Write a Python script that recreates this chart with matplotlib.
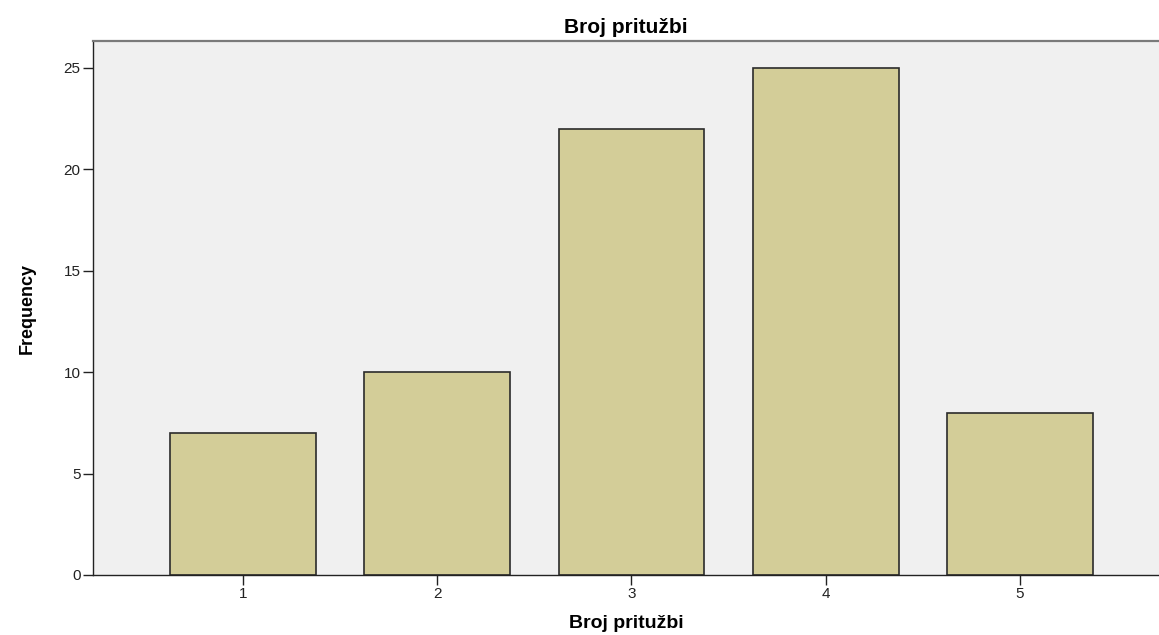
import matplotlib
matplotlib.use("Agg")

import matplotlib.pyplot as plt

plt.rcParams["font.family"] = ["Liberation Sans", "DejaVu Sans"]

# Frequencies
categories = ["1", "2", "3", "4", "5"]
frequencies = [7, 10, 22, 25, 8]
y_ticks = [0, 5, 10, 15, 20, 25]

title = "Broj pritužbi"

fig = plt.figure(figsize=(11.59, 6.35), dpi=100)
ax = fig.add_axes([93 / 1159, 60 / 635, 1 - 93 / 1159, 534 / 635])
ax.set_facecolor("#f0f0f0")

positions = list(range(1, len(categories) + 1))
ax.bar(positions, frequencies, width=0.75, color="#d3cd98",
       edgecolor="#2b2b2b", linewidth=1.2, zorder=2)

ax.set_xlim(0.228, 5.716)
ax.set_ylim(0, 26.33)
ax.set_xticks(positions)
ax.set_xticklabels(categories)
ax.set_yticks(y_ticks)

ax.spines["right"].set_visible(False)
ax.spines["top"].set_color("#7a7a7a")
ax.spines["top"].set_linewidth(1.6)
for side in ("left", "bottom"):
    ax.spines[side].set_color("#222222")
    ax.spines[side].set_linewidth(1.0)

ax.tick_params(axis="both", direction="out", length=7, width=1.0,
               colors="#222222", labelsize=11, pad=2)

ax.set_title(title, fontsize=15, fontweight="bold", pad=6)
ax.set_xlabel(title, fontsize=14, fontweight="bold", labelpad=10)
ax.set_ylabel("Frequency", fontsize=13, fontweight="bold", labelpad=20,
              fontstretch="condensed",
              family=["Liberation Sans Narrow", "Liberation Sans"])

fig.savefig("out.png", dpi=100)
